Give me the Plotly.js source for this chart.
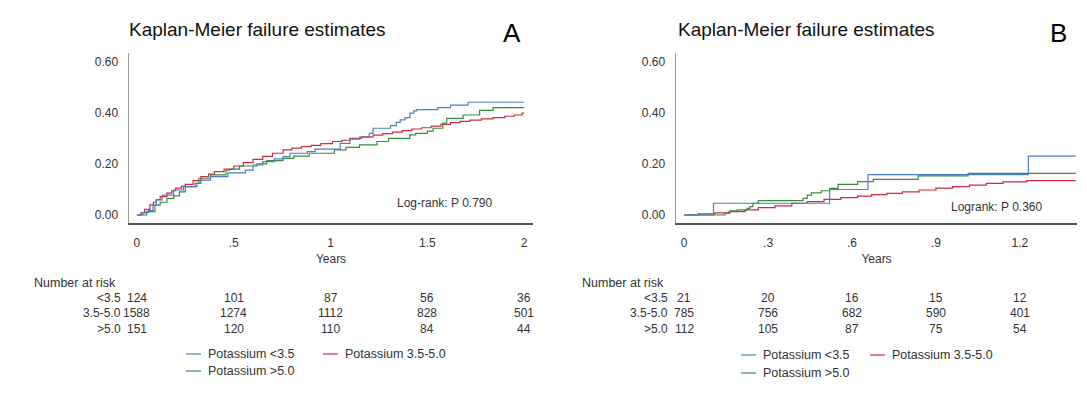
<!DOCTYPE html>
<html><head><meta charset="utf-8">
<script src="https://cdn.plot.ly/plotly-3.0.1.min.js"></script>
<style>html,body{margin:0;padding:0;background:#fff}#chart{width:1087px;height:398px}</style>
</head><body><div id="chart"></div>
<script>
// ---- data ----
const groupNames = ['Potassium <3.5', 'Potassium 3.5-5.0', 'Potassium >5.0'];
const riskRowLabels = ['<3.5', '3.5-5.0', '>5.0'];

// Panel A (years, cumulative failure)
const A_blue_t = [0, 0.03, 0.06, 0.083, 0.10, 0.13, 0.19, 0.24, 0.31, 0.33, 0.38, 0.47, 0.56, 0.60, 0.65, 0.71, 0.755, 0.79, 0.88, 0.92, 1.05, 1.10, 1.15, 1.20, 1.22, 1.31, 1.34, 1.36, 1.385, 1.41, 1.43, 1.445, 1.555, 1.62, 1.71, 2.0];
const A_blue_s = [0, 0.010, 0.017, 0.040, 0.059, 0.078, 0.098, 0.111, 0.124, 0.137, 0.150, 0.165, 0.176, 0.196, 0.209, 0.220, 0.229, 0.242, 0.248, 0.258, 0.281, 0.297, 0.305, 0.320, 0.340, 0.350, 0.363, 0.373, 0.382, 0.399, 0.408, 0.413, 0.421, 0.431, 0.442, 0.442];
const A_red_t = [0, 0.02, 0.04, 0.067, 0.085, 0.10, 0.12, 0.155, 0.18, 0.20, 0.23, 0.25, 0.29, 0.33, 0.37, 0.40, 0.45, 0.50, 0.55, 0.60, 0.65, 0.70, 0.755, 0.80, 0.85, 0.90, 0.95, 1.01, 1.06, 1.10, 1.16, 1.22, 1.27, 1.32, 1.37, 1.42, 1.47, 1.52, 1.57, 1.62, 1.67, 1.72, 1.78, 1.84, 1.90, 1.95, 1.99, 2.0];
const A_red_s = [0, 0.008, 0.022, 0.040, 0.050, 0.060, 0.072, 0.086, 0.095, 0.105, 0.113, 0.120, 0.135, 0.150, 0.160, 0.170, 0.180, 0.192, 0.205, 0.218, 0.230, 0.242, 0.255, 0.262, 0.268, 0.273, 0.280, 0.288, 0.293, 0.300, 0.306, 0.313, 0.319, 0.325, 0.331, 0.337, 0.342, 0.348, 0.355, 0.362, 0.367, 0.372, 0.377, 0.382, 0.387, 0.392, 0.399, 0.399];
const A_green_t = [0, 0.05, 0.093, 0.12, 0.155, 0.19, 0.22, 0.25, 0.30, 0.32, 0.38, 0.46, 0.48, 0.53, 0.62, 0.67, 0.755, 0.81, 0.89, 1.02, 1.08, 1.15, 1.24, 1.30, 1.41, 1.44, 1.50, 1.53, 1.58, 1.60, 1.685, 1.77, 1.84, 2.0];
const A_green_s = [0, 0.013, 0.039, 0.050, 0.065, 0.075, 0.091, 0.111, 0.124, 0.144, 0.157, 0.176, 0.180, 0.192, 0.200, 0.213, 0.222, 0.231, 0.242, 0.255, 0.265, 0.275, 0.288, 0.300, 0.314, 0.320, 0.329, 0.340, 0.360, 0.379, 0.392, 0.410, 0.421, 0.421];

// Panel B
const B_blue_t = [0, 0.105, 0.52, 0.657, 1.23, 1.40];
const B_blue_s = [0, 0.046, 0.100, 0.158, 0.231, 0.231];
const B_red_t = [0, 0.05, 0.11, 0.16, 0.218, 0.265, 0.325, 0.385, 0.44, 0.50, 0.56, 0.62, 0.67, 0.725, 0.78, 0.84, 0.90, 0.96, 1.02, 1.08, 1.14, 1.225, 1.40];
const B_red_s = [0, 0.004, 0.008, 0.013, 0.020, 0.029, 0.036, 0.046, 0.052, 0.061, 0.068, 0.074, 0.080, 0.085, 0.091, 0.098, 0.105, 0.111, 0.117, 0.124, 0.130, 0.135, 0.135];
const B_green_t = [0, 0.146, 0.164, 0.19, 0.225, 0.235, 0.246, 0.265, 0.425, 0.44, 0.455, 0.49, 0.52, 0.55, 0.62, 0.676, 0.836, 1.015, 1.40];
const B_green_s = [0, 0.007, 0.016, 0.020, 0.026, 0.033, 0.046, 0.056, 0.065, 0.078, 0.087, 0.095, 0.104, 0.120, 0.131, 0.140, 0.153, 0.163, 0.163];

// Number at risk
const riskTimesA = [0, 0.5, 1, 1.5, 2];
const riskA_low = [124, 101, 87, 56, 36];
const riskA_mid = [1588, 1274, 1112, 828, 501];
const riskA_high = [151, 120, 110, 84, 44];
const riskTimesB = [0, 0.3, 0.6, 0.9, 1.2];
const riskB_low = [21, 20, 16, 15, 12];
const riskB_mid = [785, 756, 682, 590, 401];
const riskB_high = [112, 105, 87, 75, 54];

// Axis ticks
const yTickVals = [0, 0.2, 0.4, 0.6];
const xTickValsA = [0, 0.5, 1, 1.5, 2];
const xTickTextA = ['0', '.5', '1', '1.5', '2'];
const xTickValsB = [0, 0.3, 0.6, 0.9, 1.2];
const xTickTextB = ['0', '.3', '.6', '.9', '1.2'];

const panelTitle = 'Kaplan-Meier failure estimates';
const logrankA = 'Log-rank: P 0.790';
const logrankB = 'Logrank: P 0.360';

// ---- styling ----
const W = 1087, H = 398;
const FONT = 'Liberation Sans, Arial, Helvetica, sans-serif';
const colors = ['#4a7fc3', '#d4283f', '#3b8c3e'];
const px = v => v / W;
const py = v => 1 - v / H;

function stepTrace(t, s, ci, xa, ya) {
  return {x: t, y: s, type: 'scatter', mode: 'lines', xaxis: xa, yaxis: ya,
    line: {shape: 'hv', color: colors[ci], width: 1.2}, showlegend: false,
    name: groupNames[ci], hoverinfo: 'x+y+name'};
}

const traces = [
  stepTrace(A_red_t, A_red_s, 1, 'x', 'y'),
  stepTrace(A_green_t, A_green_s, 2, 'x', 'y'),
  stepTrace(A_blue_t, A_blue_s, 0, 'x', 'y'),
  stepTrace(B_red_t, B_red_s, 1, 'x2', 'y2'),
  stepTrace(B_green_t, B_green_s, 2, 'x2', 'y2'),
  stepTrace(B_blue_t, B_blue_s, 0, 'x2', 'y2'),
];

const yDom = [py(223), py(53)];
const yRange = [-0.0314, 0.635];

function yAxis(anchor) {
  return {domain: yDom, range: yRange, anchor: anchor, tickvals: yTickVals, tickformat: '.2f',
    showgrid: false, zeroline: false, showline: true, linecolor: '#9a9a9a', linewidth: 1.5,
    ticks: 'outside', ticklen: 7, tickcolor: 'rgba(0,0,0,0)',
    tickfont: {family: FONT, size: 12, color: '#333'}, fixedrange: true};
}
function xAxis(anchor, dom, range, tv, tt) {
  return {domain: dom, range: range, anchor: anchor, tickvals: tv, ticktext: tt,
    showgrid: false, zeroline: false, showline: true, linecolor: '#555', linewidth: 1.5,
    ticks: 'outside', ticklen: 8, tickcolor: 'rgba(0,0,0,0)',
    tickfont: {family: FONT, size: 12, color: '#333'},
    title: {text: 'Years', font: {family: FONT, size: 12, color: '#333'}, standoff: 5},
    fixedrange: true};
}

const annotations = [];
const shapes = [];
function txt(x, y, text, opts) {
  annotations.push(Object.assign({x: x, y: y, xref: 'paper', yref: 'paper', text: text, showarrow: false,
    xanchor: 'left', yanchor: 'middle', font: {family: FONT, size: 12, color: '#333'}}, opts || {}));
}

// titles and panel letters
txt(px(127), py(30), panelTitle, {font: {family: FONT, size: 19, color: '#111'}});
txt(px(676), py(30), panelTitle, {font: {family: FONT, size: 19, color: '#111'}});
txt(px(512), py(33), 'A', {xanchor: 'center', font: {family: FONT, size: 26, color: '#000'}});
txt(px(1058), py(33), 'B', {xanchor: 'center', font: {family: FONT, size: 26, color: '#000'}});

// log-rank texts (positioned in data coordinates)
annotations.push({x: 1.59, y: 0.047, xref: 'x', yref: 'y', text: logrankA, showarrow: false,
  xanchor: 'center', yanchor: 'middle', font: {family: FONT, size: 12, color: '#333'}});
annotations.push({x: 1.118, y: 0.033, xref: 'x2', yref: 'y2', text: logrankB, showarrow: false,
  xanchor: 'center', yanchor: 'middle', font: {family: FONT, size: 12, color: '#333'}});

// risk tables
const rowY = [py(298), py(313), py(329)];
function riskTable(xref, times, rows, headerX) {
  txt(headerX, py(283), 'Number at risk', {font: {family: FONT, size: 12.5, color: '#333'}});
  rows.forEach((vals, r) => {
    annotations.push({x: times[0], y: rowY[r], xref: xref, yref: 'paper', text: riskRowLabels[r],
      showarrow: false, xanchor: 'right', yanchor: 'middle', xshift: -14,
      font: {family: FONT, size: 12, color: '#333'}});
    vals.forEach((v, i) => {
      annotations.push({x: times[i], y: rowY[r], xref: xref, yref: 'paper', text: String(v),
        showarrow: false, xanchor: 'center', yanchor: 'middle',
        font: {family: FONT, size: 12, color: '#333'}});
    });
  });
}
riskTable('x', riskTimesA, [riskA_low, riskA_mid, riskA_high], px(32));
riskTable('x2', riskTimesB, [riskB_low, riskB_mid, riskB_high], px(580));

// legends (drawn keys + labels)
function legend(x0, x1, y0, y1) {
  const items = [[x0, y0, 0], [x1, y0, 1], [x0, y1, 2]];
  items.forEach(([x, y, ci]) => {
    shapes.push({type: 'line', xref: 'paper', yref: 'paper', x0: px(x), x1: px(x + 15), y0: py(y), y1: py(y),
      line: {color: colors[ci], width: 1.2}});
    txt(px(x + 20), py(y), groupNames[ci], {font: {family: FONT, size: 12.5, color: '#333'}});
  });
}
legend(186, 323, 354, 371);
legend(741, 870, 355, 373);

const layout = {
  width: W, height: H, margin: {l: 0, r: 0, t: 0, b: 0},
  paper_bgcolor: '#fff', plot_bgcolor: '#fff', showlegend: false,
  font: {family: FONT, size: 12, color: '#333'},
  xaxis: xAxis('y', [px(129), px(533)], [-0.041, 2.046], xTickValsA, xTickTextA),
  yaxis: yAxis('x'),
  xaxis2: xAxis('y2', [px(676), px(1077)], [-0.029, 1.404], xTickValsB, xTickTextB),
  yaxis2: yAxis('x2'),
  annotations: annotations, shapes: shapes
};

Plotly.newPlot('chart', traces, layout, {displayModeBar: false, staticPlot: true});
</script>
</body></html>
